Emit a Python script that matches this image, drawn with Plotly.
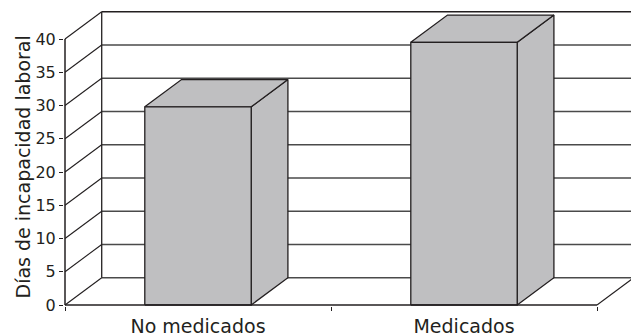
import plotly.graph_objects as go

# Data
categorias = ["No medicados", "Medicados"]
dias = [29.8, 39.5]
y_ticks = [0, 5, 10, 15, 20, 25, 30, 35, 40]

# 3D projection parameters (depth offset in axis units)
DX = 0.138
DY = 4.1
BAR_W = 0.4
N = len(categorias)
YMAX = y_ticks[-1]

INK = "#231f20"
GRID = "#4a4a4a"
BAR_FILL = "#bfbfc1"
FONT = "DejaVu Sans"

fig = go.Figure()


def line_trace(xs, ys, color, width):
    fig.add_trace(go.Scatter(x=xs, y=ys, mode="lines",
                             line=dict(color=color, width=width),
                             hoverinfo="skip", showlegend=False))


# Back wall gridlines
gx, gy = [], []
for v in y_ticks[:-1]:
    gx += [DX, N + DX + 1, None]
    gy += [v + DY, v + DY, None]
line_trace(gx, gy, GRID, 1.3)
# top edge of back wall
line_trace([DX, N + DX + 1], [YMAX + DY, YMAX + DY], INK, 1.5)

# Left side wall diagonals
sx, sy = [], []
for v in y_ticks:
    sx += [0, DX, None]
    sy += [v, v + DY, None]
line_trace(sx, sy, INK, 1.1)

# Back wall left edge
line_trace([DX, DX], [DY, YMAX + DY], INK, 1.3)

# Floor right edge
line_trace([N, N + DX], [0, DY], INK, 1.1)


def poly(xs, ys):
    fig.add_trace(go.Scatter(x=xs + [xs[0]], y=ys + [ys[0]], mode="lines",
                             fill="toself", fillcolor=BAR_FILL,
                             line=dict(color=INK, width=1.3),
                             hoverinfo="skip", showlegend=False))


# 3D columns
for i, v in enumerate(dias):
    c = i + 0.5
    x0, x1 = c - BAR_W / 2, c + BAR_W / 2
    # side face
    poly([x1, x1 + DX, x1 + DX, x1], [0, DY, v + DY, v])
    # top face
    poly([x0, x1, x1 + DX, x0 + DX], [v, v, v + DY, v + DY])
    # front face
    poly([x0, x1, x1, x0], [0, 0, v, v])

# Front floor edge and value axis line
line_trace([0, N], [0, 0], INK, 1.3)
line_trace([0, 0], [0, YMAX], INK, 1.5)

W, H = 631, 336
PX_X = 266.0
PX_Y = 6.65
L, B, T, R = 64, 30, 0, 0
x_lo = -(65 - L) / PX_X
x_hi = x_lo + (W - L - R) / PX_X
y_lo = -((H - B) - 305) / PX_Y
y_hi = y_lo + (H - B - T) / PX_Y

fig.update_layout(
    width=W, height=H,
    margin=dict(l=L, r=R, t=T, b=B),
    plot_bgcolor="white", paper_bgcolor="white",
    font=dict(family=FONT, color=INK),
    xaxis=dict(range=[x_lo, x_hi], showgrid=False, zeroline=False,
               showline=False,
               tickmode="array", tickvals=[i + 0.5 for i in range(N)],
               ticktext=categorias, ticks="", ticklabelstandoff=7,
               tickfont=dict(size=19, family=FONT, color=INK),
               minor=dict(tickmode="array", tickvals=list(range(N + 1)),
                          ticks="outside", ticklen=4, tickwidth=1.2,
                          tickcolor=INK, showgrid=False)),
    yaxis=dict(range=[y_lo, y_hi], showgrid=False, zeroline=False,
               showline=False,
               tickmode="array", tickvals=y_ticks,
               ticktext=[str(t) for t in y_ticks],
               ticks="outside", ticklen=4, tickwidth=1.2, tickcolor=INK,
               tickfont=dict(size=16, family=FONT, color=INK)),
    annotations=[dict(text="Días de incapacidad laboral", textangle=-90,
                      xref="paper", yref="paper",
                      x=(22 - L) / (W - L - R), y=(H - B - 167.5) / (H - B - T),
                      xanchor="center", yanchor="middle", showarrow=False,
                      font=dict(size=19, family=FONT, color=INK))],
)

fig.write_html("out.html")
